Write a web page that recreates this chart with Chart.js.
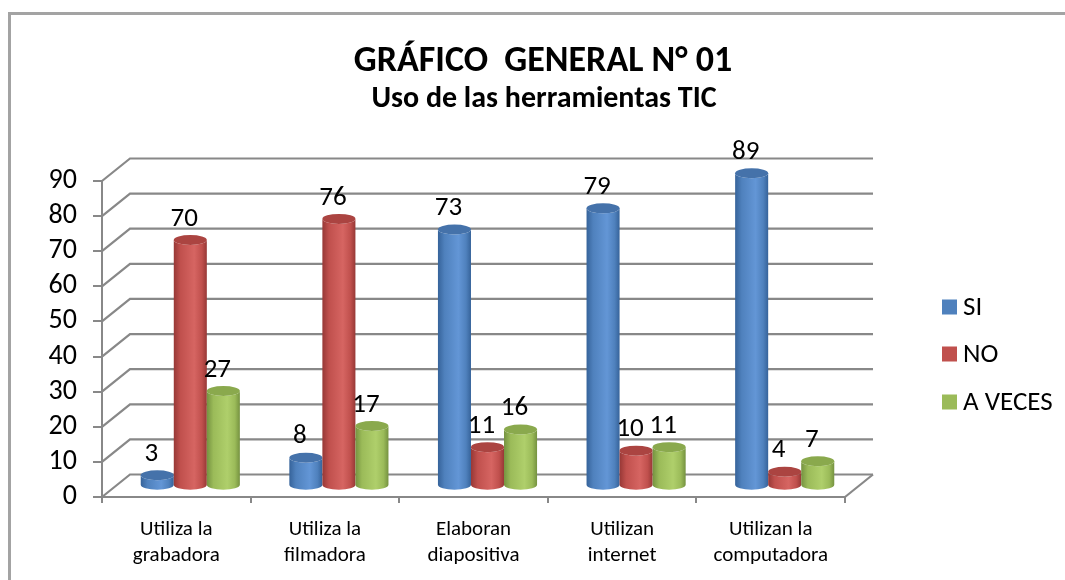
<!DOCTYPE html>
<html>
<head>
<meta charset="utf-8">
<script src="https://cdn.jsdelivr.net/npm/chart.js@4"></script>
<style>
  html, body { margin: 0; padding: 0; background: #fff; }
  #wrap { width: 1065px; height: 580px; position: relative; }
</style>
</head>
<body>
<div id="wrap"><canvas id="chart" width="1065" height="580"></canvas></div>
<script>
// datos del gráfico
const categories = [
  ['Utiliza la', 'grabadora'],
  ['Utiliza la', 'filmadora'],
  ['Elaboran', 'diapositiva'],
  ['Utilizan', 'internet'],
  ['Utilizan la', 'computadora']
];
const seriesNames = ['SI', 'NO', 'A VECES'];
const siValues = [3, 8, 73, 79, 89];
const noValues = [70, 76, 11, 10, 4];
const aVecesValues = [27, 17, 16, 11, 7];
const yTicks = [0, 10, 20, 30, 40, 50, 60, 70, 80, 90];
const titleText = 'GRÁFICO  GENERAL N° 01';
const subtitleText = 'Uso de las herramientas TIC';

const FONT = 'Carlito, Calibri, Lato, sans-serif';
const GRID = '#888888';

// colores tipo Office (base, borde oscuro, brillo, tapa)
const palette = [
  { base: '#4f81bd', dark: '#36639a', light: '#6396d6', top: '#4572aa' },
  { base: '#c0504d', dark: '#973836', light: '#d66562', top: '#ab4441' },
  { base: '#9bbb59', dark: '#759240', light: '#afcf6b', top: '#8aa94d' }
];

// desplazamiento de profundidad (pared del fondo)
const DX = 28, DY = -22.5;

function drawCylinder(ctx, cx, yt, yb, w, c) {
  const rx = w / 2, ry = 5;
  const g = ctx.createLinearGradient(cx - rx, 0, cx + rx, 0);
  g.addColorStop(0, c.dark);
  g.addColorStop(0.2, c.base);
  g.addColorStop(0.62, c.light);
  g.addColorStop(0.85, c.base);
  g.addColorStop(1, c.dark);
  ctx.beginPath();
  ctx.moveTo(cx - rx, yt);
  ctx.lineTo(cx - rx, yb);
  ctx.ellipse(cx, yb, rx, ry, 0, Math.PI, 0, true);
  ctx.lineTo(cx + rx, yt);
  ctx.ellipse(cx, yt, rx, ry, 0, 0, Math.PI, false);
  ctx.closePath();
  ctx.fillStyle = g;
  ctx.fill();
  ctx.beginPath();
  ctx.ellipse(cx, yt, rx, ry, 0, 0, Math.PI * 2);
  ctx.fillStyle = c.top;
  ctx.fill();
}

const cylinderPlugin = {
  id: 'cylinders',
  beforeDraw(chart) {
    const ctx = chart.ctx;
    ctx.save();
    ctx.fillStyle = '#fff';
    ctx.fillRect(0, 0, chart.width, chart.height);
    // marco
    ctx.strokeStyle = '#a3a3a3';
    ctx.lineWidth = 3;
    ctx.strokeRect(9.5, 13.5, 1200, 700);
    // títulos
    ctx.fillStyle = '#000';
    ctx.textAlign = 'center';
    ctx.textBaseline = 'alphabetic';
    ctx.font = 'bold 36px ' + FONT;
    ctx.fillText(titleText, 543, 71);
    ctx.font = 'bold 30px ' + FONT;
    ctx.fillText(subtitleText, 544, 107);
    // leyenda
    ctx.textAlign = 'left';
    ctx.textBaseline = 'middle';
    ctx.font = '27px ' + FONT;
    const ly = [307, 354, 402];
    chart.data.datasets.forEach((ds, i) => {
      ctx.fillStyle = palette[i].base;
      ctx.fillRect(942, ly[i] - 7.5, 15, 15);
      ctx.fillStyle = '#000';
      ctx.fillText(ds.label, 963, ly[i] + 1);
    });
    ctx.restore();
  },
  beforeDatasetsDraw(chart) {
    const ctx = chart.ctx;
    const y = chart.scales.y;
    const a = chart.chartArea;
    ctx.save();
    ctx.strokeStyle = GRID;
    ctx.lineWidth = 2.2;
    yTicks.forEach(v => {
      const py = y.getPixelForValue(v);
      ctx.beginPath();
      ctx.moveTo(a.left, py);
      ctx.lineTo(a.left + DX, py + DY);
      ctx.lineTo(a.right + DX, py + DY);
      ctx.stroke();
    });
    // lado derecho del piso
    const p0 = y.getPixelForValue(0);
    ctx.beginPath();
    ctx.moveTo(a.right, p0);
    ctx.lineTo(a.right + DX, p0 + DY);
    ctx.stroke();
    ctx.restore();
  },
  beforeDatasetDraw() {
    return false;
  },
  afterDatasetsDraw(chart) {
    const ctx = chart.ctx;
    const n = chart.data.labels.length;
    ctx.save();
    for (let k = 0; k < n; k++) {
      chart.data.datasets.forEach((ds, i) => {
        const el = chart.getDatasetMeta(i).data[k];
        const cx = el.x + DX / 2;
        const yt = el.y + DY / 2;
        const yb = el.base + DY / 2;
        drawCylinder(ctx, cx, yt, yb, el.width, palette[i]);
      });
    }
    // etiquetas de datos
    ctx.fillStyle = '#000';
    ctx.font = '27px ' + FONT;
    ctx.textAlign = 'center';
    ctx.textBaseline = 'middle';
    chart.data.datasets.forEach((ds, i) => {
      chart.getDatasetMeta(i).data.forEach((el, k) => {
        ctx.fillText(String(ds.data[k]), el.x + DX / 2 - 6, el.y + DY / 2 - 21);
      });
    });
    ctx.restore();
  }
};

new Chart(document.getElementById('chart'), {
  type: 'bar',
  data: {
    labels: categories,
    datasets: [
      { label: seriesNames[0], data: siValues, backgroundColor: palette[0].base },
      { label: seriesNames[1], data: noValues, backgroundColor: palette[1].base },
      { label: seriesNames[2], data: aVecesValues, backgroundColor: palette[2].base }
    ]
  },
  options: {
    responsive: false,
    animation: false,
    layout: { padding: { top: 181, right: 220, bottom: 0, left: 0 } },
    plugins: {
      legend: { display: false },
      tooltip: { enabled: false },
      title: { display: false }
    },
    datasets: {
      bar: { categoryPercentage: 0.667, barPercentage: 1 }
    },
    scales: {
      x: {
        afterFit: s => { s.height = 83; },
        grid: { offset: true, drawOnChartArea: false, tickLength: 6, color: GRID, lineWidth: 2 },
        border: { display: true, color: GRID, width: 2 },
        ticks: { color: '#000', font: { family: FONT, size: 21, lineHeight: 1.24 }, padding: 14, maxRotation: 0 }
      },
      y: {
        min: 0,
        max: 90,
        afterFit: s => { s.width = 102; },
        afterBuildTicks: s => { s.ticks = yTicks.map(v => ({ value: v })); },
        grid: { drawOnChartArea: false, tickLength: 9, color: GRID, lineWidth: 2 },
        border: { display: true, color: GRID, width: 2 },
        ticks: { color: '#000', font: { family: FONT, size: 28, lineHeight: 1 }, padding: 16, autoSkip: false }
      }
    }
  },
  plugins: [cylinderPlugin]
});
</script>
</body>
</html>
